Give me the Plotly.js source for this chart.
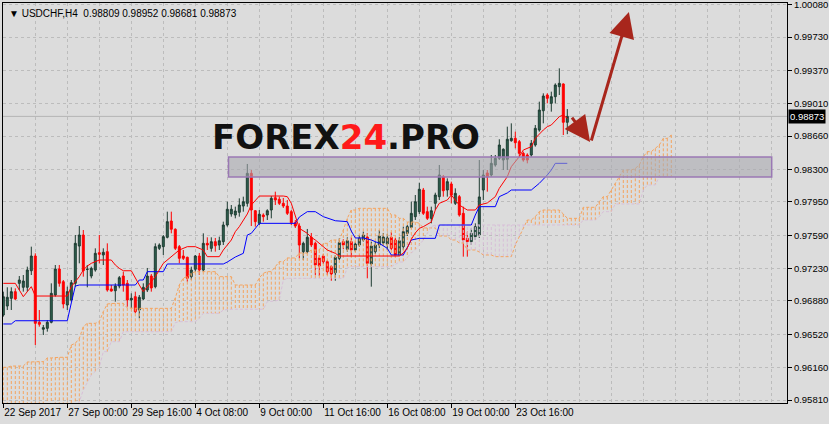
<!DOCTYPE html>
<html><head><meta charset="utf-8">
<script src="https://cdn.plot.ly/plotly-3.0.1.min.js"></script>
<style>html,body{margin:0;padding:0;background:#dcdcdc;}#chart{width:829px;height:424px;}</style>
</head><body><div id="chart"></div>
<script>
// ---- Data (USDCHF H4) ----
const symbol = 'USDCHF,H4';
const tickBars = [0, 16, 32, 48, 64, 80, 96, 112, 128];
const tickLabels = ['22 Sep 2017', '27 Sep 00:00', '29 Sep 16:00', '4 Oct 08:00', '9 Oct 00:00', '11 Oct 16:00', '16 Oct 08:00', '19 Oct 00:00', '23 Oct 16:00'];
const priceTicks = [1.00080, 0.99730, 0.99370, 0.99010, 0.98660, 0.98300, 0.97950, 0.97590, 0.97230, 0.96880, 0.96520, 0.96160, 0.95810];

const openP = [0.96728,0.96825,0.96908,0.96980,0.97070,0.97027,0.97027,0.97206,0.97365,0.96649,
0.96574,0.96584,0.96649,0.96944,0.97225,0.97088,0.96836,0.96890,0.97070,0.97473,
0.97592,0.97220,0.97149,0.97214,0.97401,0.97376,0.97412,0.97009,0.96990,0.97041,
0.97149,0.97070,0.96890,0.96926,0.96782,0.96901,0.96998,0.97149,0.97034,0.97448,
0.97466,0.97567,0.97743,0.97654,0.97466,0.97365,0.97351,0.97142,0.97222,0.97365,
0.97214,0.97502,0.97448,0.97520,0.97484,0.97520,0.97700,0.97819,0.97808,0.97837,
0.97905,0.97934,0.98258,0.97854,0.97718,0.97808,0.97808,0.97862,0.97995,0.97978,
0.97934,0.97905,0.97844,0.97725,0.97689,0.97412,0.97412,0.97567,0.97502,0.97344,
0.97365,0.97304,0.97250,0.97185,0.97340,0.97520,0.97438,0.97520,0.97430,0.97484,
0.97538,0.97570,0.97279,0.97412,0.97484,0.97506,0.97495,0.97567,0.97538,0.97376,
0.97466,0.97610,0.97675,0.97790,0.97844,0.98078,0.97844,0.97772,0.97934,0.98006,
0.98222,0.98078,0.98143,0.97934,0.98006,0.97826,0.97556,0.97520,0.97574,0.97592,
0.98078,0.98262,0.98240,0.98348,0.98420,0.98402,0.98410,0.98610,0.98636,0.98600,
0.98474,0.98456,0.98456,0.98564,0.98726,0.98934,0.99104,0.99014,0.99086,0.99194,
0.99223,0.98809];
const highP = [0.96980,0.97027,0.97027,0.97016,0.97149,0.97160,0.97250,0.97466,0.97394,0.96782,
0.96620,0.96674,0.97070,0.97268,0.97268,0.97106,0.97034,0.97106,0.97592,0.97689,
0.97646,0.97268,0.97250,0.97448,0.97592,0.97448,0.97502,0.97052,0.97070,0.97149,
0.97196,0.97106,0.96962,0.96980,0.96944,0.97070,0.97236,0.97171,0.97502,0.97502,
0.97592,0.97844,0.97844,0.97664,0.97484,0.97430,0.97358,0.97250,0.97376,0.97398,
0.97610,0.97567,0.97567,0.97560,0.97574,0.97736,0.97952,0.97916,0.97898,0.97988,
0.98006,0.98359,0.98294,0.97862,0.97862,0.97826,0.97870,0.98013,0.98060,0.98006,
0.97992,0.97970,0.97862,0.97754,0.97718,0.97520,0.97657,0.97614,0.97520,0.97376,
0.97387,0.97322,0.97268,0.97376,0.97556,0.97546,0.97567,0.97567,0.97520,0.97592,
0.97628,0.97614,0.97520,0.97516,0.97646,0.97614,0.97603,0.97624,0.97560,0.97567,
0.97682,0.97700,0.97952,0.98024,0.98157,0.98100,0.97898,0.97898,0.98049,0.98348,
0.98240,0.98204,0.98168,0.98096,0.98024,0.97898,0.97628,0.97664,0.97718,0.98402,
0.98294,0.98294,0.98456,0.98456,0.98626,0.98528,0.98762,0.98798,0.98708,0.98618,
0.98492,0.98474,0.98618,0.98780,0.99032,0.99122,0.99122,0.99140,0.99230,0.99392,
0.99230,0.98952];
const lowP = [0.96710,0.96782,0.96782,0.96890,0.96998,0.96980,0.96980,0.97160,0.96404,0.96602,
0.96512,0.96548,0.96638,0.96926,0.97034,0.96800,0.96782,0.96872,0.97034,0.97286,
0.97142,0.97027,0.97124,0.97196,0.97286,0.97268,0.96980,0.96980,0.96872,0.97016,
0.96980,0.96818,0.96800,0.96746,0.96692,0.96890,0.96976,0.96980,0.97016,0.97430,
0.97376,0.97556,0.97610,0.97430,0.97286,0.97322,0.97088,0.97106,0.97196,0.97160,
0.97196,0.97430,0.97412,0.97412,0.97430,0.97484,0.97682,0.97790,0.97772,0.97790,
0.97844,0.97898,0.97689,0.97682,0.97700,0.97736,0.97754,0.97772,0.97916,0.97916,
0.97884,0.97808,0.97700,0.97668,0.97340,0.97322,0.97394,0.97462,0.97160,0.97149,
0.97279,0.97160,0.97098,0.97098,0.97322,0.97438,0.97412,0.97358,0.97412,0.97466,
0.97520,0.97124,0.97034,0.97387,0.97452,0.97473,0.97430,0.97430,0.97358,0.97365,
0.97430,0.97581,0.97664,0.97754,0.97819,0.97808,0.97754,0.97718,0.97862,0.97970,
0.98006,0.98006,0.97934,0.97916,0.97790,0.97358,0.97358,0.97484,0.97538,0.97560,
0.97970,0.98060,0.98222,0.98330,0.98402,0.98294,0.98294,0.98600,0.98528,0.98438,
0.98384,0.98366,0.98438,0.98546,0.98708,0.98798,0.99014,0.98924,0.99014,0.99104,
0.98672,0.98681];
const closeP = [0.96926,0.96919,0.96980,0.96901,0.97106,0.97095,0.97214,0.97365,0.96638,0.96628,
0.96591,0.96649,0.96962,0.97225,0.97070,0.96847,0.96980,0.97077,0.97502,0.97592,
0.97206,0.97222,0.97232,0.97394,0.97384,0.97405,0.96998,0.96987,0.97041,0.97131,
0.97052,0.96890,0.96908,0.96764,0.96919,0.97027,0.97149,0.97020,0.97466,0.97484,
0.97574,0.97736,0.97654,0.97448,0.97340,0.97340,0.97124,0.97214,0.97365,0.97214,
0.97502,0.97484,0.97520,0.97476,0.97530,0.97700,0.97870,0.97870,0.97851,0.97916,
0.97952,0.98258,0.97862,0.97736,0.97816,0.97790,0.97854,0.97988,0.97970,0.97934,
0.97905,0.97826,0.97725,0.97689,0.97484,0.97502,0.97567,0.97484,0.97268,0.97257,
0.97304,0.97196,0.97171,0.97351,0.97509,0.97484,0.97530,0.97430,0.97495,0.97556,
0.97592,0.97286,0.97473,0.97484,0.97581,0.97570,0.97560,0.97448,0.97376,0.97530,
0.97628,0.97682,0.97826,0.97952,0.98086,0.97826,0.97772,0.97854,0.98024,0.98240,
0.98070,0.98168,0.98024,0.98042,0.97808,0.97538,0.97520,0.97610,0.97682,0.98003,
0.98240,0.98218,0.98366,0.98420,0.98564,0.98518,0.98626,0.98636,0.98589,0.98474,
0.98402,0.98402,0.98582,0.98744,0.98942,0.99093,0.99068,0.99086,0.99212,0.99230,
0.98809,0.98873];

// Tenkan-sen (red) and Kijun-sen (blue) read as polyline vertices: bar index / price
const tenkanX = [0,3,4,5,6,7,8,16,17,18,19,20,21,22,24,27,28,29,30,32,33,34,35,36,38,40,42,44,46,48,50,51,54,55,57,58,59,61,62,63,64,70,71,72,73,74,76,77,78,80,81,83,84,99,100,101,102,103,104,105,107,108,109,111,112,113,114,116,118,119,121,123,124,126,127,129,130,132,133,135,136,137,139,140,141];
const tenkanY = [0.97070,0.97070,0.96998,0.96926,0.96980,0.97034,0.96933,0.96933,0.97034,0.97088,0.97142,0.97214,0.97257,0.97286,0.97322,0.97322,0.97268,0.97232,0.97206,0.97206,0.97124,0.97052,0.96980,0.97034,0.97142,0.97286,0.97358,0.97430,0.97466,0.97466,0.97430,0.97358,0.97358,0.97430,0.97538,0.97628,0.97682,0.97819,0.97916,0.97970,0.98013,0.98013,0.98006,0.97934,0.97790,0.97664,0.97610,0.97567,0.97538,0.97466,0.97430,0.97394,0.97365,0.97365,0.97398,0.97452,0.97546,0.97614,0.97664,0.97682,0.97732,0.97862,0.97934,0.97970,0.98024,0.97970,0.97916,0.97862,0.97862,0.97916,0.97938,0.98006,0.98096,0.98222,0.98330,0.98438,0.98510,0.98546,0.98636,0.98726,0.98762,0.98780,0.98870,0.98888,0.98852];
const kijunX = [0,2,3,16,17,18,19,33,34,35,36,40,41,55,56,58,60,61,62,63,64,73,74,76,78,80,83,86,87,88,90,92,94,96,97,100,101,102,104,108,109,117,118,119,123,124,126,127,132,134,136,137,138,141];
const kijunY = [0.96631,0.96631,0.96666,0.96666,0.96858,0.97041,0.97052,0.97052,0.97106,0.97106,0.97196,0.97196,0.97279,0.97279,0.97300,0.97354,0.97394,0.97592,0.97610,0.97664,0.97718,0.97718,0.97786,0.97844,0.97844,0.97790,0.97746,0.97736,0.97635,0.97560,0.97560,0.97538,0.97502,0.97448,0.97376,0.97376,0.97462,0.97538,0.97556,0.97556,0.97700,0.97700,0.97808,0.97898,0.97898,0.98006,0.98046,0.98078,0.98078,0.98150,0.98240,0.98294,0.98366,0.98366];

// Senkou span A / B, one value per bar (cloud drawn 26 bars ahead)
const spanA = [0.96163,0.96163,0.96177,0.96177,0.96177,0.96177,0.96220,0.96224,0.96224,0.96224,
0.96224,0.96264,0.96264,0.96271,0.96271,0.96271,0.96271,0.96404,0.96422,0.96476,
0.96602,0.96638,0.96638,0.96638,0.96656,0.96764,0.96847,0.96854,0.96854,0.96854,
0.96854,0.96804,0.96800,0.96800,0.96800,0.96800,0.96800,0.96800,0.96800,0.96800,
0.96800,0.96800,0.96800,0.96912,0.97052,0.97128,0.97142,0.97178,0.97196,0.97196,
0.97196,0.97196,0.97196,0.97196,0.97142,0.97142,0.97142,0.97142,0.97052,0.97052,
0.97052,0.97052,0.97052,0.97052,0.97128,0.97178,0.97196,0.97196,0.97250,0.97304,
0.97304,0.97344,0.97344,0.97344,0.97398,0.97398,0.97398,0.97430,0.97430,0.97430,
0.97502,0.97502,0.97538,0.97538,0.97538,0.97646,0.97772,0.97862,0.97862,0.97880,
0.97880,0.97880,0.97880,0.97880,0.97880,0.97880,0.97880,0.97808,0.97808,0.97772,
0.97772,0.97732,0.97732,0.97732,0.97718,0.97668,0.97668,0.97668,0.97668,0.97581,
0.97581,0.97581,0.97538,0.97538,0.97506,0.97506,0.97430,0.97430,0.97430,0.97408,
0.97376,0.97376,0.97376,0.97358,0.97358,0.97358,0.97358,0.97358,0.97484,0.97574,
0.97668,0.97754,0.97754,0.97790,0.97844,0.97862,0.97862,0.97862,0.97862,0.97862,
0.97819,0.97772,0.97772,0.97772,0.97772,0.97891,0.97891,0.97891,0.97891,0.97952,
0.98006,0.98006,0.98078,0.98150,0.98215,0.98294,0.98294,0.98294,0.98312,0.98348,
0.98438,0.98492,0.98492,0.98528,0.98564,0.98636,0.98636,0.98672];
const spanB = [0.95600,0.95600,0.95600,0.95600,0.95600,0.95600,0.95600,0.95600,0.95600,0.95600,
0.95600,0.95600,0.95600,0.95600,0.95600,0.95600,0.95600,0.95600,0.95700,0.95792,
0.95918,0.96000,0.96080,0.96120,0.96163,0.96332,0.96332,0.96440,0.96440,0.96440,
0.96548,0.96548,0.96548,0.96548,0.96548,0.96548,0.96548,0.96548,0.96548,0.96548,
0.96548,0.96548,0.96548,0.96645,0.96656,0.96656,0.96656,0.96656,0.96656,0.96692,
0.96746,0.96746,0.96746,0.96746,0.96746,0.96782,0.96790,0.96790,0.96790,0.96790,
0.96790,0.96790,0.96790,0.96790,0.96790,0.96790,0.96872,0.96872,0.96880,0.96890,
0.97106,0.97124,0.97124,0.97124,0.97124,0.97124,0.97124,0.97124,0.97124,0.97124,
0.97124,0.97124,0.97124,0.97124,0.97124,0.97124,0.97236,0.97250,0.97250,0.97250,
0.97250,0.97250,0.97250,0.97250,0.97250,0.97250,0.97250,0.97250,0.97275,0.97300,
0.97300,0.97350,0.97400,0.97430,0.97480,0.97538,0.97610,0.97682,0.97700,0.97700,
0.97700,0.97700,0.97700,0.97700,0.97700,0.97700,0.97700,0.97700,0.97700,0.97700,
0.97700,0.97700,0.97700,0.97700,0.97700,0.97700,0.97700,0.97700,0.97700,0.97700,
0.97700,0.97700,0.97700,0.97700,0.97700,0.97700,0.97700,0.97700,0.97700,0.97700,
0.97700,0.97700,0.97700,0.97700,0.97700,0.97754,0.97754,0.97754,0.97754,0.97790,
0.97844,0.97844,0.97844,0.97927,0.97927,0.97927,0.97927,0.97927,0.97927,0.97927,
0.98078,0.98132,0.98132,0.98132,0.98222,0.98222,0.98222,0.98222];

// Drawn annotations (bar index / price)
const zone = {x0: 56.3, x1: 192.1, y0: 0.98218, y1: 0.98434};
const arrowDown = {x0: 141.9, y0: 0.98877, x1: 146.7, y1: 0.98596};
const arrowUp = {x0: 146.9, y0: 0.98596, x1: 156.4, y1: 1.00000};

// ---- Build traces ----
const n = closeP.length;
const barX = Array.from({length: n}, (_, i) => i);
const cloudX = Array.from({length: spanA.length}, (_, i) => i);

const hUpX = [], hUpY = [], hDnX = [], hDnY = [];
spanA.forEach((a, i) => {
  const b = spanB[i];
  if (a >= b) { hUpX.push(i, i, null); hUpY.push(a, b, null); }
  else { hDnX.push(i, i, null); hDnY.push(a, b, null); }
});

const traces = [
  {type: 'scatter', mode: 'lines', x: hUpX, y: hUpY, line: {color: '#F4A460', width: 1, dash: '3px,2px'}, hoverinfo: 'skip', showlegend: false},
  {type: 'scatter', mode: 'lines', x: hDnX, y: hDnY, line: {color: '#D8BFD8', width: 1, dash: '3px,2px'}, hoverinfo: 'skip', showlegend: false},
  {type: 'scatter', mode: 'lines', x: cloudX, y: spanA, line: {color: '#F4A460', width: 1, dash: '3px,2px'}, hoverinfo: 'skip', showlegend: false},
  {type: 'scatter', mode: 'lines', x: cloudX, y: spanB, line: {color: '#D8BFD8', width: 1, dash: '3px,2px'}, hoverinfo: 'skip', showlegend: false},
  {type: 'candlestick', x: barX, open: openP, high: highP, low: lowP, close: closeP,
   increasing: {line: {color: '#1d3b31', width: 1}, fillcolor: '#2f6350'},
   decreasing: {line: {color: '#ff0000', width: 1}, fillcolor: '#ff0000'},
   whiskerwidth: 0, hoverinfo: 'skip', showlegend: false},
  {type: 'scatter', mode: 'lines', x: kijunX, y: kijunY, line: {color: '#0000ff', width: 1}, hoverinfo: 'skip', showlegend: false},
  {type: 'scatter', mode: 'lines', x: tenkanX, y: tenkanY, line: {color: '#ff0000', width: 1}, hoverinfo: 'skip', showlegend: false}
];

const last = n - 1;
const fmt = v => v.toFixed(5);
const gridCol = '#bcbcbc';
const tickFont = {family: 'Liberation Sans, Arial, sans-serif', size: 10, color: '#000'};
const yTickFont = {family: 'Liberation Sans, Arial, sans-serif', size: 9.5, color: '#000'};

const layout = {
  width: 829, height: 424,
  margin: {l: 3, r: 42, t: 3, b: 21, pad: 0},
  paper_bgcolor: '#dcdcdc', plot_bgcolor: '#dcdcdc',
  showlegend: false, dragmode: false,
  xaxis: {
    range: [-0.075, 195.925], rangeslider: {visible: false},
    tickmode: 'array', tickvals: tickBars, ticktext: tickLabels, tickangle: 0,
    ticks: 'outside', ticklen: 4, tickcolor: '#000', tickfont: tickFont,
    ticklabelposition: 'outside right', ticklabeloverflow: 'allow',
    showgrid: true, gridcolor: gridCol, griddash: '3px,3px', gridwidth: 1,
    minor: {tickmode: 'linear', tick0: 0, dtick: 8, showgrid: true, gridcolor: gridCol, griddash: '3px,3px', gridwidth: 1, ticks: ''},
    showline: true, linecolor: '#000', linewidth: 1, mirror: true, zeroline: false, fixedrange: true
  },
  yaxis: {
    side: 'right', range: [0.957776, 1.000976],
    tickmode: 'array', tickvals: priceTicks, ticktext: priceTicks.map(fmt), tickangle: 0,
    ticks: 'outside', ticklen: 4, tickcolor: '#000', tickfont: yTickFont, ticklabeloverflow: 'allow',
    showgrid: true, gridcolor: gridCol, griddash: '3px,3px', gridwidth: 1,
    showline: true, linecolor: '#000', linewidth: 1, mirror: true, zeroline: false, fixedrange: true
  },
  shapes: [
    {type: 'line', xref: 'paper', x0: 0, x1: 1, yref: 'y', y0: closeP[last], y1: closeP[last], line: {color: '#b4b4b4', width: 1}, layer: 'between'},
    {type: 'rect', xref: 'x', yref: 'y', x0: zone.x0, x1: zone.x1, y0: zone.y0, y1: zone.y1,
     fillcolor: 'rgba(168,169,176,0.58)', line: {color: '#9a78b4', width: 1.5}, layer: 'above'}
  ],
  annotations: [
    {xref: 'paper', yref: 'paper', x: 0, y: 1, xanchor: 'left', yanchor: 'top', xshift: 4, yshift: -3, showarrow: false,
     text: '\u25BC ' + symbol + '  ' + fmt(openP[last]) + ' ' + fmt(highP[last]) + ' ' + fmt(lowP[last]) + ' ' + fmt(closeP[last]),
     font: {family: 'Liberation Sans, DejaVu Sans, sans-serif', size: 10, color: '#000'}},
    {xref: 'paper', yref: 'y', x: 1, y: closeP[last], xanchor: 'left', yanchor: 'middle', xshift: 1, showarrow: false,
     text: fmt(closeP[last]), bgcolor: '#000', borderpad: 1,
     font: {family: 'Liberation Sans, Arial, sans-serif', size: 9.5, color: '#fff'}},
    {xref: 'paper', yref: 'paper', x: 0.4375, y: 0.665, xanchor: 'center', yanchor: 'middle', showarrow: false,
     text: 'FOREX<span style="color:#ff1a1a">24</span>.PRO',
     font: {family: 'DejaVu Sans, sans-serif', size: 34, color: '#111', weight: 'bold'}},
    {xref: 'x', yref: 'y', axref: 'x', ayref: 'y', x: arrowDown.x1, y: arrowDown.y1, ax: arrowDown.x0, ay: arrowDown.y0,
     showarrow: true, arrowhead: 2, arrowsize: 1.7, arrowwidth: 3, arrowcolor: '#a8261c', text: ''},
    {xref: 'x', yref: 'y', axref: 'x', ayref: 'y', x: arrowUp.x1, y: arrowUp.y1, ax: arrowUp.x0, ay: arrowUp.y0,
     showarrow: true, arrowhead: 2, arrowsize: 1.7, arrowwidth: 3, arrowcolor: '#a8261c', text: ''}
  ]
};

Plotly.newPlot('chart', traces, layout, {staticPlot: true, displayModeBar: false});
</script>
</body></html>
